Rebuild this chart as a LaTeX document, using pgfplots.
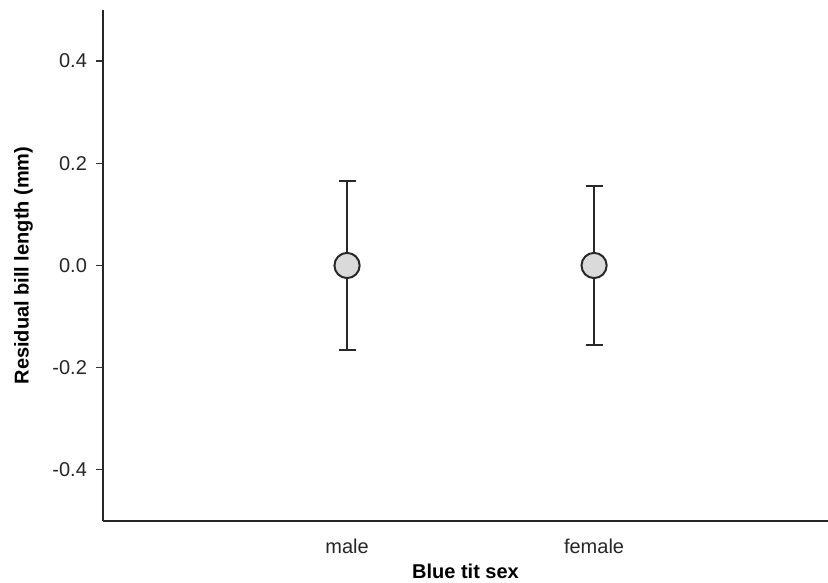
\documentclass[border=0pt]{standalone}
\usepackage{pgfplots}
\pgfplotsset{compat=1.18}
\usepackage{fontspec}
\setmainfont{Liberation Sans}

\definecolor{bar}{RGB}{40,40,40}
\definecolor{dotfill}{RGB}{218,218,218}

% means and 95% CI half widths
\pgfplotstableread{
x  y      err
1  0.000  0.165
2  0.000  0.155
}\resid

\begin{document}
\begin{tikzpicture}
\begin{axis}[
    scale only axis,
    width=362.5pt, height=255.5pt,
    xmin=0.012, xmax=2.947,
    ymin=-0.5, ymax=0.5,
    axis x line=bottom, axis y line=left,
    axis line style={-, line width=0.9pt, black!85},
    xtick={1,2}, xticklabels={male,female},
    x tick style={draw=none},
    ytick={-0.4,-0.2,0,0.2,0.4},
    yticklabels={-0.4,-0.2,0.0,0.2,0.4},
    tick align=outside, major tick length=3.5pt,
    y tick style={line width=0.6pt, black!80},
    ticklabel style={font=\fontsize{10}{12}\selectfont, text=black!85},
    xticklabel style={yshift=-2pt},
    yticklabel style={xshift=-1pt},
    xlabel={\bfseries Blue tit sex},
    ylabel={\bfseries Residual bill length (mm)},
    label style={font=\fontsize{10}{12}\selectfont},
    xlabel style={yshift=1.5pt},
    ylabel style={yshift=3pt},
    clip=false,
]
\addplot[draw=none, mark=none, color=bar,
    error bars/.cd, y dir=both, y explicit,
    error bar style={line width=0.85pt, color=bar},
    error mark options={rotate=90, mark size=4.25pt, line width=0.85pt, color=bar}]
    table[x=x, y=y, y error=err] {\resid};
\addplot[only marks, mark=*, mark size=6.3pt,
    mark options={fill=dotfill, draw=bar, line width=1pt}]
    table[x=x, y=y] {\resid};
\coordinate (sw) at (rel axis cs:0,0);
\coordinate (ne) at (rel axis cs:1,1);
\end{axis}
\pgfresetboundingbox
\path[use as bounding box] ([xshift=-51.5pt, yshift=-31pt]sw) rectangle ([yshift=5pt]ne);
\end{tikzpicture}
\end{document}
